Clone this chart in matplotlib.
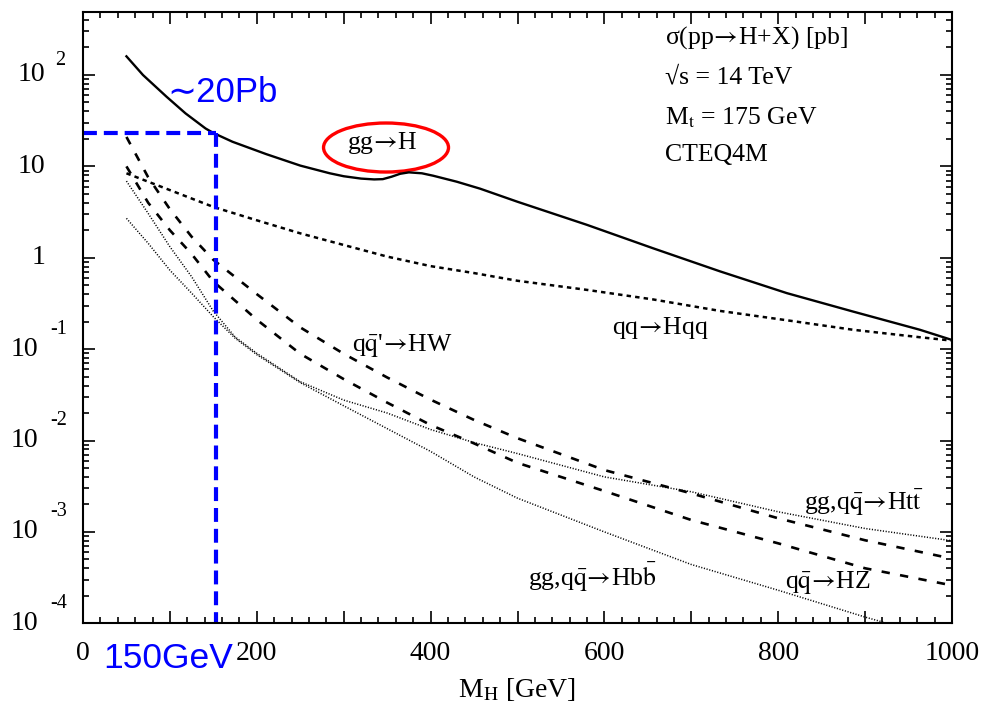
"""Higgs production cross sections at the LHC (sigma vs M_H), re-drawn."""

import matplotlib

matplotlib.use("Agg")
import matplotlib.pyplot as plt
from matplotlib.patches import Ellipse
from matplotlib.ticker import LogLocator, MultipleLocator, NullFormatter
from matplotlib.transforms import offset_copy

plt.rcParams["mathtext.fontset"] = "stix"
plt.rcParams["lines.scale_dashes"] = False

SERIF = ["Liberation Serif", "DejaVu Serif"]
SANS = ["Liberation Sans", "DejaVu Sans"]
ARROW = "$\\!\\rightarrow\\!$"

# --- data (M_H in GeV, sigma in pb) ---
m_gg = [50, 69, 96, 118, 141, 150, 172, 211, 250, 284, 300, 320, 335, 345,
        355, 365, 375, 390, 403, 430, 457, 500, 580, 656, 733, 810, 886, 963,
        1000]
sigma_gg = [160, 100, 58, 38, 26, 23.2, 18.6, 13.6, 10.2, 8.4, 7.8, 7.35, 7.2,
            7.25, 7.7, 8.3, 8.6, 8.4, 7.9, 6.8, 5.7, 4.1, 2.29, 1.27, 0.71,
            0.41, 0.258, 0.163, 0.126]

m_qq = [50, 100, 150, 200, 250, 300, 350, 400, 450, 500, 580, 656, 733, 810,
        886, 963, 1000]
sigma_qq = [8.4, 5.5, 3.6, 2.57, 1.85, 1.38, 1.03, 0.81, 0.68, 0.56, 0.445,
            0.35, 0.262, 0.207, 0.163, 0.135, 0.124]

m_v = [50, 75, 100, 125, 150, 200, 250, 300, 350, 400, 450, 500, 600, 700,
       800, 900, 1000]
sigma_hw = [21, 7.6, 3.4, 1.7, 0.95, 0.40, 0.173, 0.089, 0.049, 0.028, 0.0168,
            0.0106, 4.75e-3, 2.64e-3, 1.41e-3, 8.1e-4, 5.1e-4]
sigma_hz = [10, 4.0, 2.0, 1.1, 0.55, 0.21, 0.089, 0.047, 0.026, 0.0148, 0.0093,
            5.7e-3, 2.8e-3, 1.35e-3, 7.5e-4, 4.0e-4, 2.6e-4]

m_q = [50, 75, 100, 125, 150, 175, 200, 250, 300, 350, 400, 450, 500, 600,
       700, 800, 900, 1000]
sigma_tt = [6.9, 3.06, 1.32, 0.62, 0.26, 0.136, 0.09, 0.044, 0.0277, 0.020,
            0.0132, 9.5e-3, 7.2e-3, 4.0e-3, 2.75e-3, 1.66e-3, 1.09e-3, 8.0e-4]
sigma_bb = [2.7, 1.44, 0.73, 0.41, 0.226, 0.132, 0.087, 0.043, 0.024, 0.0135,
            7.6e-3, 4.0e-3, 2.34e-3, 1.0e-3, 4.4e-4, 2.3e-4, 1.17e-4, 6.3e-5]

# marker at ~150 GeV / ~20 pb
mark_m = 153
mark_sigma = 23.4

x_ticks = [0, 100, 200, 300, 400, 500, 600, 700, 800, 900, 1000]
x_ticklabels = ["0", "", "200", "", "400", "", "600", "", "800", "", "1000"]
y_exps = [2, 1, 0, -1, -2, -3, -4]

fig = plt.figure(figsize=(9.86, 7.12), dpi=100)
ax = fig.add_axes([83 / 986, 1 - 623.3 / 712, 869 / 986, 611 / 712])
ax.set_yscale("log")
ax.set_xlim(0, 1000)
ax.set_ylim(1e-4, 10 ** 2.686)

ax.plot(m_gg, sigma_gg, color="black", lw=1.7)
ax.plot(m_qq, sigma_qq, color="black", lw=1.8, linestyle=(0, (3.2, 3.0)))
ax.plot(m_v, sigma_hw, color="black", lw=1.9, linestyle=(0, (6, 7.5)))
ax.plot(m_v, sigma_hz, color="black", lw=1.9, linestyle=(0, (6, 7.5)))
ax.plot(m_q, sigma_tt, color="black", lw=1.1, linestyle=(0, (0.8, 1.2)))
ax.plot(m_q, sigma_bb, color="black", lw=1.1, linestyle=(0, (0.8, 1.2)))

# blue highlight lines
ax.plot([0, mark_m], [mark_sigma, mark_sigma], color="#0000ff", lw=3.0,
        linestyle=(0, (10, 5)), clip_on=False)
ax.plot([mark_m, mark_m], [mark_sigma, 1e-4], color="#0000ff", lw=3.0,
        linestyle=(0, (10, 5)), clip_on=False)

# axes styling
for side in ax.spines.values():
    side.set_linewidth(1.5)
ax.set_xticks(x_ticks, labels=x_ticklabels)
ax.xaxis.set_minor_locator(MultipleLocator(20))
ax.yaxis.set_major_locator(LogLocator(base=10, numticks=20))
ax.yaxis.set_minor_locator(LogLocator(base=10, subs=range(2, 10), numticks=20))
ax.yaxis.set_major_formatter(NullFormatter())
ax.yaxis.set_minor_formatter(NullFormatter())
ax.tick_params(which="both", direction="in", top=True, right=True, width=1.2)
ax.tick_params(which="major", length=8.5)
ax.tick_params(which="minor", length=4.3)
ax.tick_params(axis="x", which="major", pad=13, labelsize=20)
for lab in ax.get_xticklabels():
    lab.set_family(SERIF)

# y tick labels drawn as "10" with a raised exponent
ytr = ax.get_yaxis_transform()
for e in y_exps:
    v = 10.0 ** e
    if e == 0:
        ax.text(-0.0437, v, "1", transform=ytr, ha="right", va="center",
                fontsize=20, family=SERIF)
    elif e == 1:
        ax.text(-0.0437, v, "10", transform=ytr, ha="right", va="center",
                fontsize=20, family=SERIF)
    elif e > 0:
        ax.text(-0.0437, v, "10", transform=ytr, ha="right", va="center",
                fontsize=20, family=SERIF)
        up = offset_copy(ytr, fig=fig, x=0, y=14, units="dots")
        ax.text(-0.0322, v, str(e), transform=up, ha="left", va="center",
                fontsize=14.5, family=SERIF)
    else:
        ax.text(-0.0518, v, "10", transform=ytr, ha="right", va="center",
                fontsize=20, family=SERIF)
        up = offset_copy(ytr, fig=fig, x=0, y=20, units="dots")
        ax.text(-0.0380, v, str(e), transform=up, ha="left", va="center",
                fontsize=14.5, family=SERIF)

ax.text(0.5, -0.109, "M$_{\\rm H}$ [GeV]", transform=ax.transAxes,
        ha="center", va="center", fontsize=20, family=SERIF)

# annotation block, top right
info = ["\u03c3(pp" + ARROW + "H+X) [pb]", "\u221as = 14 TeV",
        "M$_{\\rm t}$ = 175 GeV", "CTEQ4M"]
info_y = [0.958, 0.8925, 0.827, 0.7665]
for txt, yy in zip(info, info_y):
    ax.text(0.67, yy, txt, transform=ax.transAxes, ha="left", va="center",
            fontsize=18.5, family=SERIF)

# curve labels
labels = [
    ("gg" + ARROW + "H", 0.345, 0.786),
    ("q$\\bar{\\rm q}$'" + ARROW + "HW", 0.367, 0.455),
    ("qq" + ARROW + "Hqq", 0.664, 0.483),
    ("gg,q$\\bar{\\rm q}$" + ARROW + "Ht$\\bar{\\rm t}$", 0.898, 0.198),
    ("gg,q$\\bar{\\rm q}$" + ARROW + "Hb$\\bar{\\rm b}$", 0.586, 0.076),
    ("q$\\bar{\\rm q}$" + ARROW + "HZ", 0.857, 0.066),
]
for txt, xx, yy in labels:
    ax.text(xx, yy, txt, transform=ax.transAxes, ha="center", va="center",
            fontsize=18.5, family=SERIF)

ax.add_patch(Ellipse((0.3487, 0.7787), 0.1438, 0.0802, transform=ax.transAxes,
                     fill=False, edgecolor="#ff0000", lw=2.4))

# blue notes
ax.text(0.0967, 0.868, "\u223c20Pb", transform=ax.transAxes, ha="left",
        va="center", fontsize=25, color="#0000ff", family=SANS)
ax.text(0.023, -0.0568, "150GeV", transform=ax.transAxes, ha="left",
        va="center", fontsize=25.5, color="#0000ff", family=SANS)

fig.savefig("out.png", dpi=100, facecolor="white")
